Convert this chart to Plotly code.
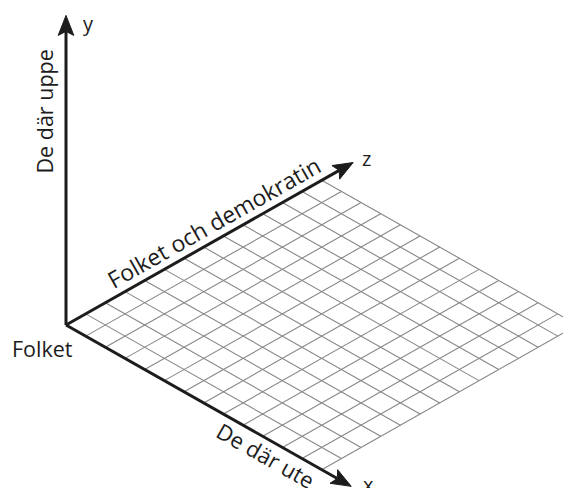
import math
import plotly.graph_objects as go

# ---- diagram content -------------------------------------------------------
AXIS_NAMES = ["x", "y", "z"]
AXIS_TITLES = ["De där ute", "De där uppe", "Folket och demokratin"]
AXIS_LENGTHS = [14.5, 13.7, 14.6]          # in grid-cell units
ORIGIN_LABEL = "Folket"
GRID_X_CELLS = 13
GRID_Z_CELLS = 13

# ---- styling / layout constants -------------------------------------------
W, H = 563, 488
CELL_PX = 22.6
ORIGIN_PX = (66, 325)
ANG = math.radians(29.5)
C, S = math.cos(ANG), math.sin(ANG)
AXIS_COLOR = "#1c1c1c"
GRID_COLOR = "#878787"
FONT = "Open Sans"


def proj(X, Y, Z):
    """isometric-style projection to plot units"""
    return (X + Z) * C, Y + (Z - X) * S


fig = go.Figure()

# grid on the x-z floor
gx, gy = [], []
for i in range(GRID_X_CELLS + 1):
    a = proj(i, 0, 0)
    b = proj(i, 0, GRID_Z_CELLS)
    gx += [a[0], b[0], None]
    gy += [a[1], b[1], None]
for k in range(GRID_Z_CELLS + 1):
    a = proj(0, 0, k)
    b = proj(GRID_X_CELLS, 0, k)
    gx += [a[0], b[0], None]
    gy += [a[1], b[1], None]
fig.add_trace(go.Scatter(x=gx, y=gy, mode="lines", hoverinfo="skip",
                         line=dict(color=GRID_COLOR, width=1.1), showlegend=False))

# axes with arrowheads
AH_LEN = 20 / CELL_PX
AH_HALF = 7.8 / CELL_PX
AH_NOTCH = 4 / CELL_PX
tips = {}
for name, L in zip(AXIS_NAMES, AXIS_LENGTHS):
    vec = {"x": (L, 0, 0), "y": (0, L, 0), "z": (0, 0, L)}[name]
    tx, ty = proj(*vec)
    tips[name] = (tx, ty)
    n = math.hypot(tx, ty)
    dx, dy = tx / n, ty / n
    px_, py_ = -dy, dx
    bx, by = tx - dx * AH_LEN, ty - dy * AH_LEN
    nx, ny = tx - dx * (AH_LEN - AH_NOTCH), ty - dy * (AH_LEN - AH_NOTCH)
    fig.add_trace(go.Scatter(x=[0, nx], y=[0, ny], mode="lines", hoverinfo="skip",
                             line=dict(color=AXIS_COLOR, width=3), showlegend=False))
    fig.add_trace(go.Scatter(
        x=[tx, bx + px_ * AH_HALF, nx, bx - px_ * AH_HALF, tx],
        y=[ty, by + py_ * AH_HALF, ny, by - py_ * AH_HALF, ty],
        mode="lines", fill="toself", fillcolor=AXIS_COLOR, hoverinfo="skip",
        line=dict(color=AXIS_COLOR, width=1), showlegend=False))

font = dict(family=FONT, size=21.5, color=AXIS_COLOR)
ann = []
# axis letters near arrow tips
letter_off = {"x": (0.75, 0.1), "y": (1.0, -0.35), "z": (0.6, 0.2)}
for name in AXIS_NAMES:
    tx, ty = tips[name]
    ox, oy = letter_off[name]
    ann.append(dict(x=tx + ox, y=ty + oy, text=name, showarrow=False,
                    font=dict(family=FONT, size=20, color=AXIS_COLOR)))

# axis titles along the axes
zx, zy = proj(0, 0, 7.95)
ann.append(dict(x=zx - S * 0.72, y=zy + C * 0.72, text=AXIS_TITLES[2],
                textangle=-29.5, showarrow=False,
                font=dict(family=FONT, size=23, color=AXIS_COLOR)))
xx, xy = proj(9.45, 0, 0)
ann.append(dict(x=xx + S * 1.25, y=xy - C * 1.25, text=AXIS_TITLES[0],
                textangle=29.5, showarrow=False,
                font=dict(family=FONT, size=22, color=AXIS_COLOR)))
ann.append(dict(x=-0.97, y=9.45, text=AXIS_TITLES[1], textangle=-90,
                showarrow=False, font=font))
ann.append(dict(x=-1.06, y=-1.05, text=ORIGIN_LABEL, showarrow=False, font=font))

fig.update_layout(
    width=W, height=H, margin=dict(l=0, r=0, t=0, b=0),
    paper_bgcolor="white", plot_bgcolor="white",
    xaxis=dict(range=[-ORIGIN_PX[0] / CELL_PX, (W - ORIGIN_PX[0]) / CELL_PX],
               visible=False, fixedrange=True),
    yaxis=dict(range=[(ORIGIN_PX[1] - H) / CELL_PX, ORIGIN_PX[1] / CELL_PX],
               visible=False, fixedrange=True),
    annotations=ann,
)
fig.write_html("out.html", config={"displayModeBar": False},
               post_script="document.body.style.margin='0';"
                           "document.body.style.overflow='hidden';")
